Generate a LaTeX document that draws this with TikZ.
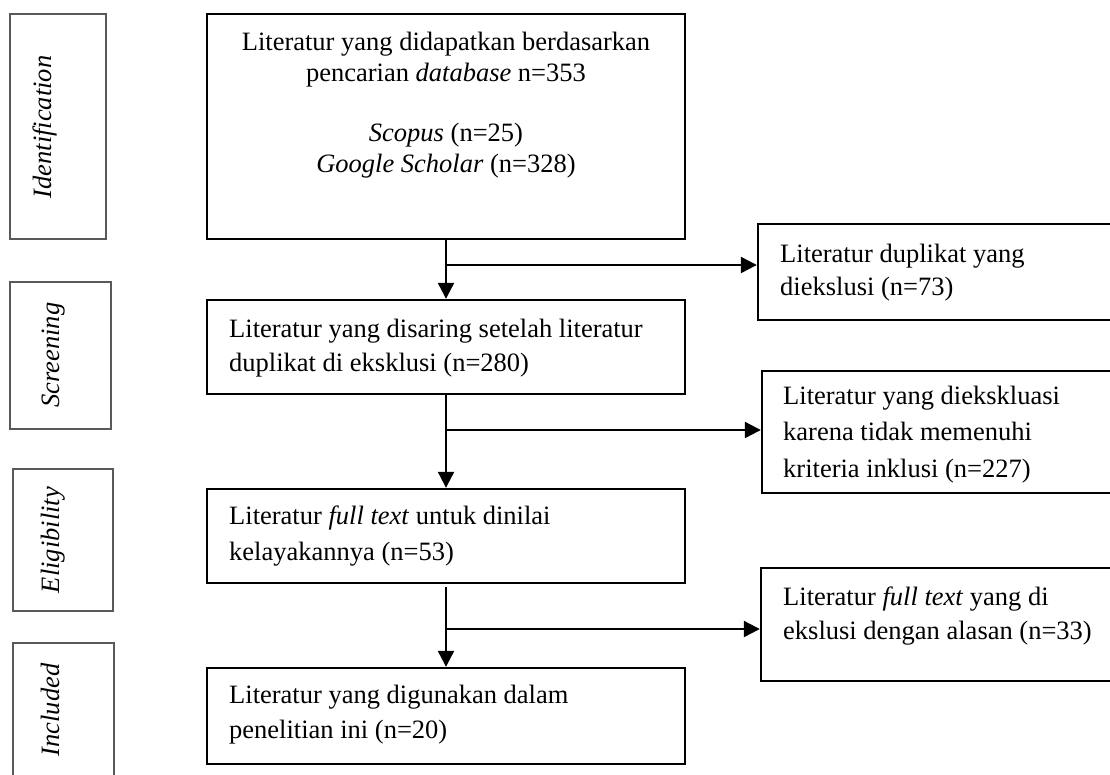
\documentclass[tikz,border=0pt]{standalone}
\usepackage{fontspec}
\setmainfont{Liberation Serif}
\usetikzlibrary{arrows.meta}
\tikzset{
  mainbox/.style={draw=black, line width=2.4pt, inner sep=0pt},
  stagebox/.style={draw=black!65, line width=1.2pt, inner sep=0pt},
  txt/.style={inner sep=0pt, anchor=base west},
  ctxt/.style={inner sep=0pt, anchor=base},
  stagetxt/.style={inner sep=0pt, anchor=base, rotate=90, font=\itshape},
  arr/.style={line width=2.2pt, -{Triangle[length=16pt,width=16pt]}}
}
\begin{document}
\begin{tikzpicture}[x=1pt,y=-1pt]
\fontsize{26.5}{31}\selectfont
\useasboundingbox (0,0) rectangle (1110,774);
\clip (0,0) rectangle (1110,774);
\fill[white] (0,0) rectangle (1110,774);

% stage boxes
\node[stagebox, minimum width=96, minimum height=225] (l1) at (58,126.5) {};
\node[stagebox, minimum width=101, minimum height=147] (l2) at (60.5,355.5) {};
\node[stagebox, minimum width=100, minimum height=142] (l3) at (63,540) {};
\node[stagebox, minimum width=101, minimum height=157] (l4) at (63.5,721.5) {};
\node[stagetxt] (t1) at (51,127) {Identification};
\node[stagetxt] (t2) at (59.5,355) {Screening};
\node[stagetxt] (t3) at (59,540) {Eligibility};
\node[stagetxt] (t4) at (59,710) {Included};

% main boxes
\node[mainbox, minimum width=478, minimum height=225] (b1) at (446,126.5) {};
\node[mainbox, minimum width=478, minimum height=94] (b2) at (446,347) {};
\node[mainbox, minimum width=478, minimum height=94] (b3) at (446,536) {};
\node[mainbox, minimum width=478, minimum height=96] (b4) at (446,716) {};

% exclusion boxes
\node[mainbox, minimum width=372, minimum height=96] (e1) at (944,272) {};
\node[mainbox, minimum width=368, minimum height=122] (e2) at (946,432) {};
\node[mainbox, minimum width=369, minimum height=113] (e3) at (945.5,624.5) {};

% texts
\node[ctxt] (a1) at (446,50.7) {Literatur yang didapatkan berdasarkan};
\node[ctxt] (a2) at (446,81.7) {pencarian \textit{database} n=353};
\node[ctxt] (a3) at (446,141.7) {\textit{Scopus} (n=25)};
\node[ctxt] (a4) at (446,172.7) {\textit{Google Scholar} (n=328)};

\node[txt] (c1) at (229,337.7) {Literatur yang disaring setelah literatur};
\node[txt] (c2) at (229,371.7) {duplikat di eksklusi (n=280)};
\node[txt] (d1) at (229,524) {Literatur \textit{full text} untuk dinilai};
\node[txt] (d2) at (229,560) {kelayakannya (n=53)};
\node[txt] (f1) at (229,703) {Literatur yang digunakan dalam};
\node[txt] (f2) at (229,738) {penelitian ini (n=20)};

\node[txt] (g1) at (780,262) {Literatur duplikat yang};
\node[txt] (g2) at (780,295.7) {diekslusi (n=73)};
\node[txt] (h1) at (783,404) {Literatur yang diekskluasi};
\node[txt] (h2) at (783,440.7) {karena tidak memenuhi};
\node[txt] (h3) at (783,477) {kriteria inklusi (n=227)};
\node[txt] (k1) at (783,605) {Literatur \textit{full text} yang di};
\node[txt] (k2) at (783,639) {ekslusi dengan alasan (n=33)};

% connectors
\coordinate (j1) at (446,265);
\coordinate (j2) at (446,430);
\coordinate (j3) at (446,629);
\draw[arr] (b1.south) -- (b2.north);
\draw[arr] (j1) -- (j1 -| e1.west);
\draw[arr] (b2.south) -- (b3.north);
\draw[arr] (j2) -- (j2 -| e2.west);
\draw[arr, shorten <=3pt] (b3.south) -- (b4.north);
\draw[arr] (j3) -- (j3 -| e3.west);
\end{tikzpicture}
\end{document}
